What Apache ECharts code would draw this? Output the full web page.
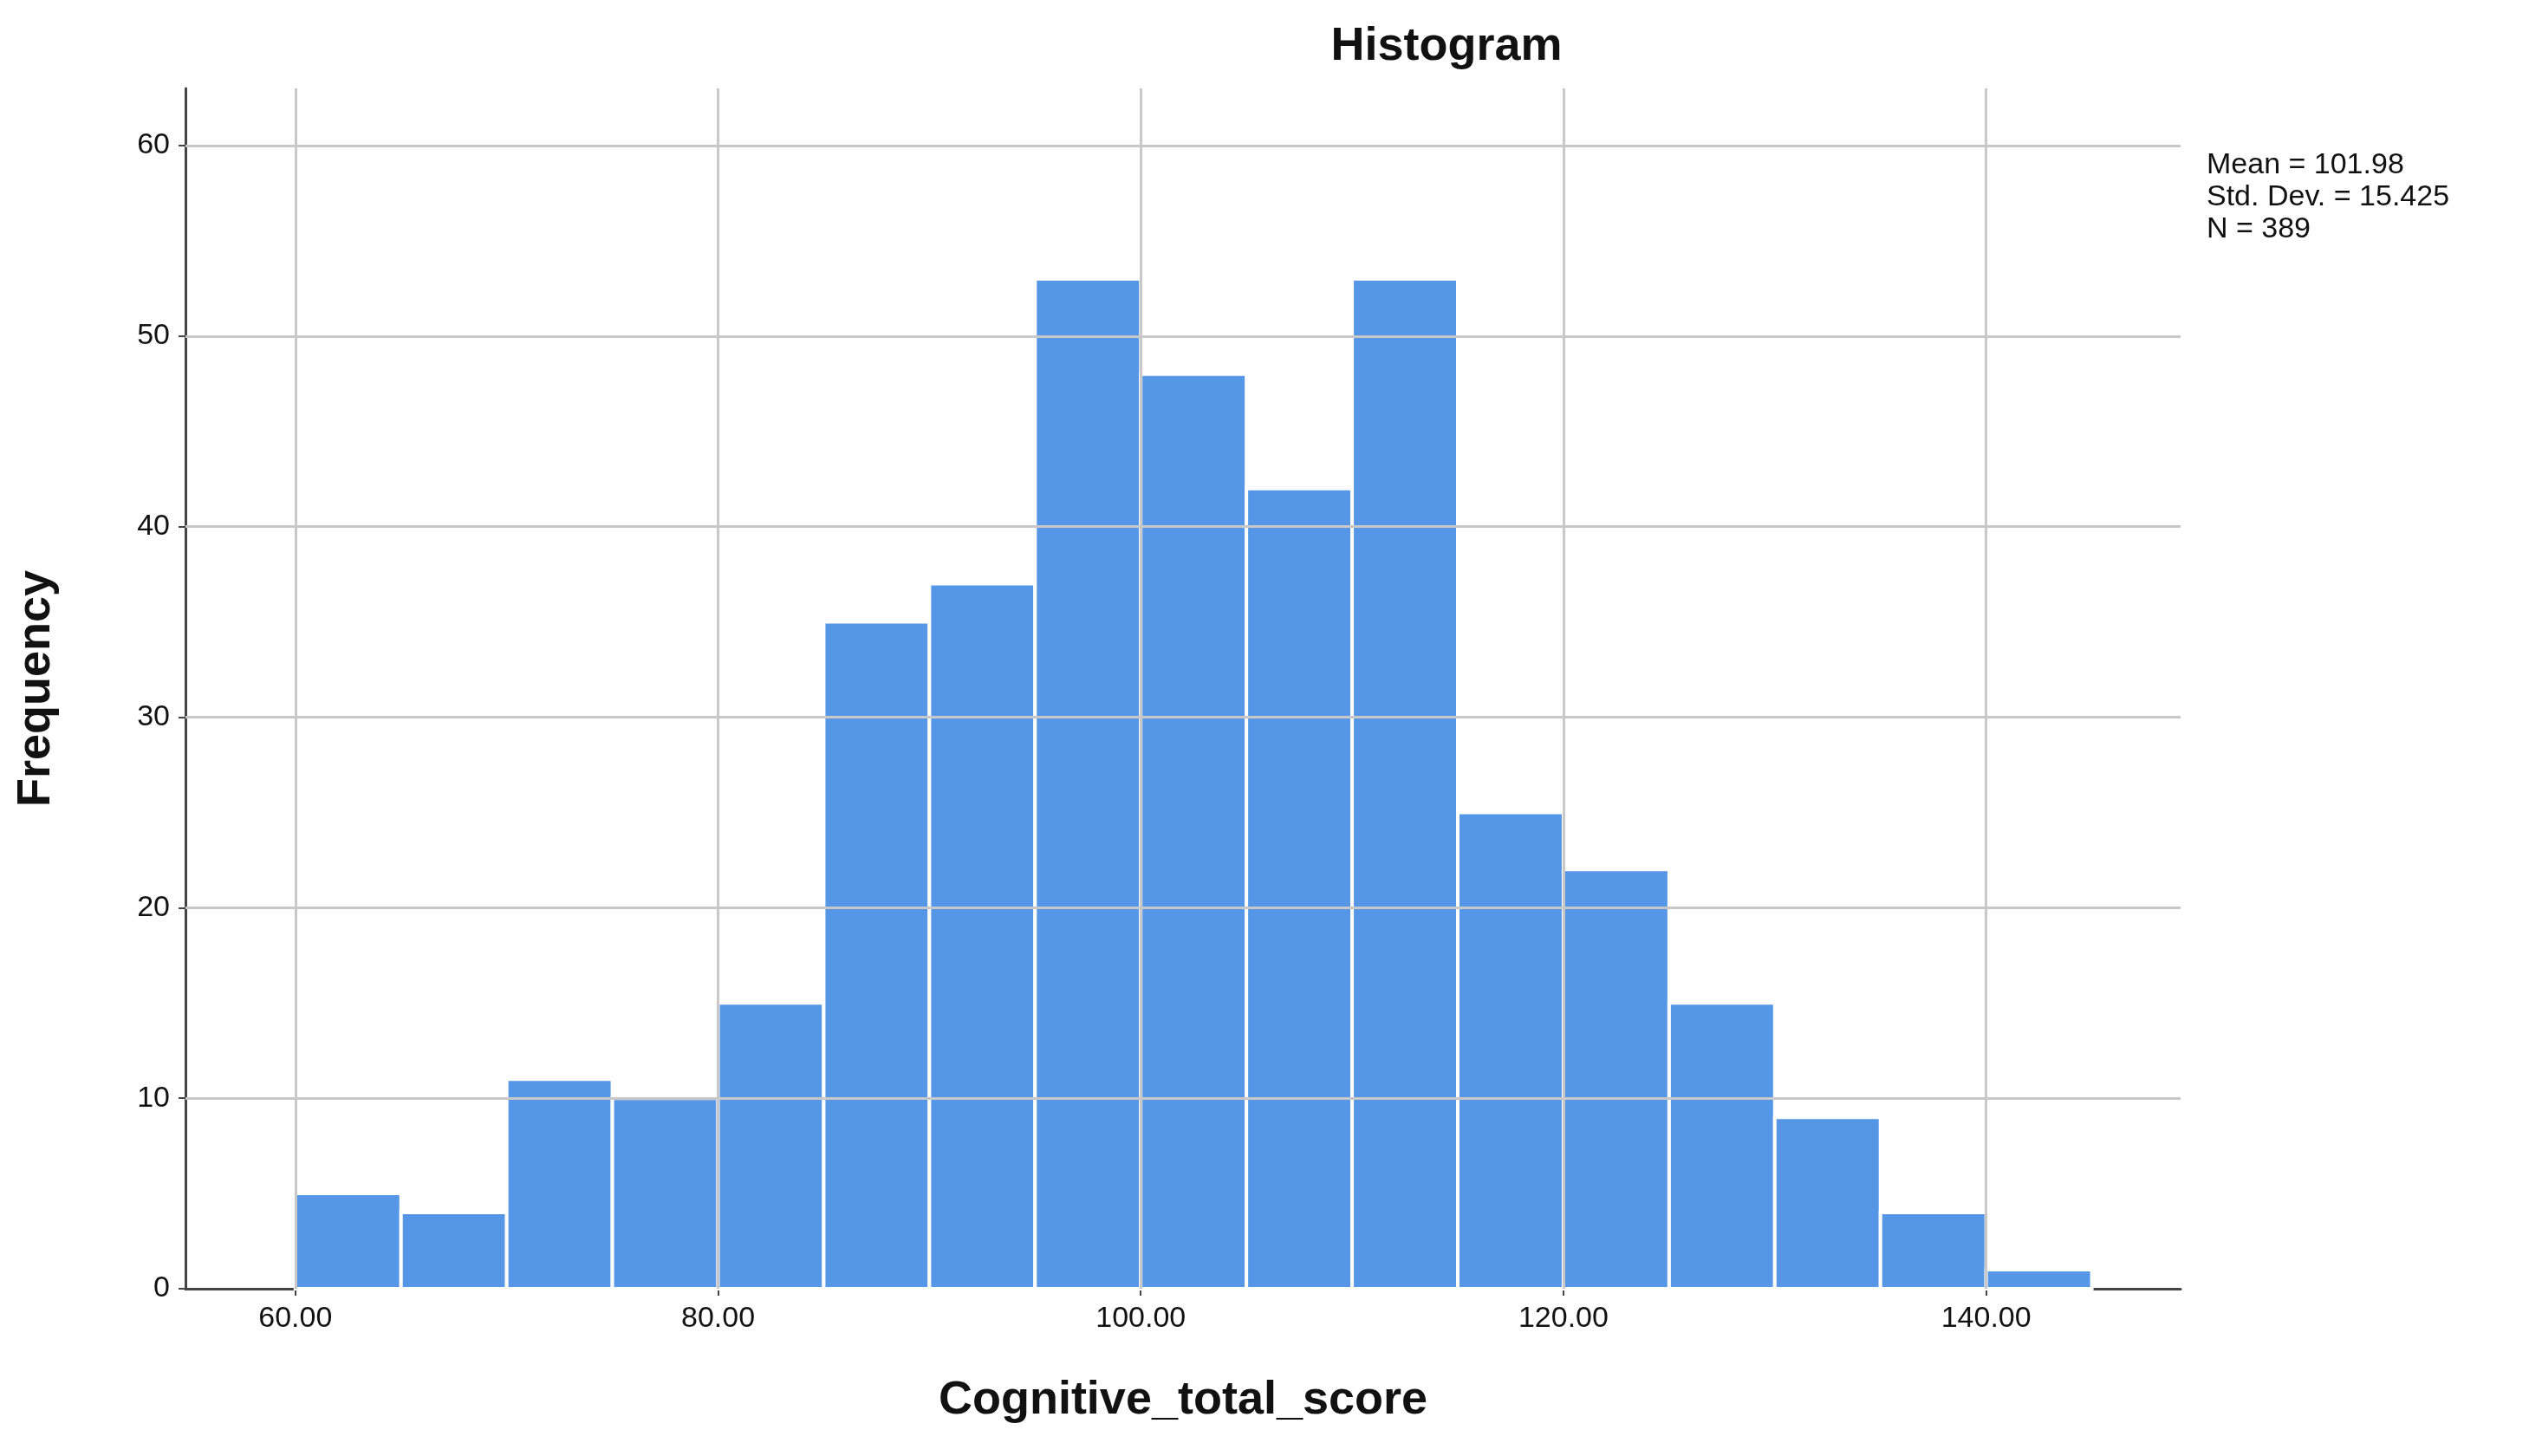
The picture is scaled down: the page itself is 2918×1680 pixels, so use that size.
<!DOCTYPE html>
<html><head><meta charset="utf-8">
<script src="https://cdn.jsdelivr.net/npm/echarts@6/dist/echarts.min.js"></script>
<style>html,body{margin:0;background:#fff}#c{width:2918px;height:1680px}</style>
</head><body><div id="c"></div>
<script>
const binStarts = [60,65,70,75,80,85,90,95,100,105,110,115,120,125,130,135,140];
const binWidth = 5;
const frequencies = [5,4,11,10,15,35,37,53,48,42,53,25,22,15,9,4,1];
const xTicks = [60,80,100,120,140];
const yTicks = [0,10,20,30,40,50,60];
const statsLines = ['Mean = 101.98','Std. Dev. = 15.425','N = 389'];

const chart = echarts.init(document.getElementById('c'));
const data = binStarts.map((s,i)=>[s, s+binWidth, frequencies[i]]);
const grid = '#c8c8c8';
chart.setOption({
  animation:false,
  title:{text:'Histogram',left:1664,top:22,textAlign:'center',textStyle:{fontFamily:'Liberation Sans',fontWeight:'bold',fontSize:54,color:'#111'}},
  graphic:[{type:'text',left:2546,top:172,style:{text:statsLines.join('\n'),font:'34px "Liberation Sans"',lineHeight:37,fill:'#111'}}],
  grid:{left:214,right:402,top:102,bottom:193},
  xAxis:{type:'value',min:54.8,max:149.2,name:'Cognitive_total_score',nameLocation:'middle',nameGap:102,
    nameTextStyle:{fontFamily:'Liberation Sans',fontWeight:'bold',fontSize:54,color:'#111'},
    axisLine:{lineStyle:{color:'#444',width:3}},
    axisTick:{show:true,customValues:xTicks,length:8,lineStyle:{color:'#444',width:2}},
    axisLabel:{customValues:xTicks,formatter:v=>v.toFixed(2),fontFamily:'Liberation Sans',fontSize:34,color:'#111',margin:18},
    splitLine:{show:false}},
  yAxis:{type:'value',min:0,max:63,name:'Frequency',nameLocation:'middle',nameGap:145,
    nameTextStyle:{fontFamily:'Liberation Sans',fontWeight:'bold',fontSize:54,color:'#111'},
    axisLine:{show:true,lineStyle:{color:'#444',width:3}},
    axisTick:{show:true,customValues:yTicks,length:8,lineStyle:{color:'#444',width:2}},
    axisLabel:{customValues:yTicks,fontFamily:'Liberation Sans',fontSize:34,color:'#111',margin:18},
    splitLine:{show:false}},
  series:[
    {type:'line',data:[],z:1,silent:true,markLine:{symbol:'none',silent:true,label:{show:false},
      lineStyle:{color:grid,width:3,type:'solid'},
      data:[...xTicks.map(v=>({xAxis:v})),...yTicks.filter(v=>v>0).map(v=>({yAxis:v}))]}},
    {type:'custom',z:3,data:data,encode:{x:[0,1],y:2},
      renderItem:(params,api)=>{
        const p0=api.coord([api.value(0),api.value(2)]);
        const p1=api.coord([api.value(1),0]);
        return {type:'rect',shape:{x:p0[0],y:p0[1],width:p1[0]-p0[0],height:p1[1]-p0[1]},
          style:{fill:'#5596E6',stroke:'#ffffff',lineWidth:4}};
      }}
  ]
});
</script></body></html>
